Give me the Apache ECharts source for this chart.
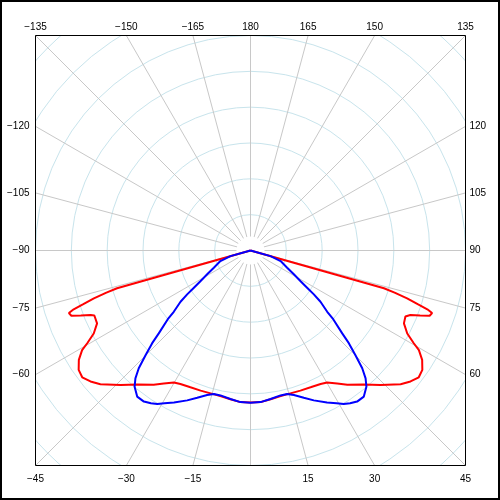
<!DOCTYPE html>
<html>
<head>
<meta charset="utf-8">
<script src="https://cdn.jsdelivr.net/npm/echarts@6/dist/echarts.min.js"></script>
<style>
html, body { margin: 0; padding: 0; background: #fff; }
#chart { width: 500px; height: 500px; }
</style>
</head>
<body>
<div id="chart"></div>
<script>
// right half of each curve (gamma in degrees, intensity), the left half is the mirror image
const redAngles = [0, 3.8, 7.7, 11.7, 15.6, 19.6, 23.7, 27.7, 30.1, 33.1, 35.8, 40.2, 44.0, 48.3, 50.7, 53.0, 55.2, 57.5, 59.4, 60.4, 62.1, 64.6, 66.9, 67.4, 68.0, 69.0, 70.0, 71.0, 71.6, 72.2, 73.0, 73.7, 74.2, 74.5]
const redValues = [424, 424, 419, 415, 414, 415, 417, 421, 426, 443, 462, 490, 522, 561, 577, 588, 584, 568, 546, 524, 495, 474, 470, 472, 481, 507, 532, 536, 520, 490, 457, 419, 387, 0]

const blueAngles = [0, 3.8, 7.7, 11.7, 14.3, 16.7, 19.9, 22.9, 26.7, 29.4, 31.3, 33.1, 35.2, 37.8, 40.4, 42.0, 43.5, 45.1, 46.7, 47.9, 50.3, 51.4, 53.8, 55.3, 56.7, 58.6, 61.2, 64.9, 70.7, 74.4, 74.5]
const blueValues = [425, 424, 418, 413, 413, 421, 437, 454, 475, 489, 501, 509, 516, 516, 499, 480, 453, 413, 377, 345, 300, 274, 242, 215, 189, 163, 138, 113, 89, 58, 0]

// angle labels along each side of the frame
const bottomLabels = [-45, -30, -15, 15, 30, 45]
const topLabels = [-135, -150, -165, 180, 165, 150, 135]
const leftLabels = [-60, -75, -90, -105, -120]
const rightLabels = [60, 75, 90, 105, 120]

const EDGE = 600 // intensity at the middle of each frame side
const SIDE = 430 // frame size in px

const rad = (d) => d * Math.PI / 180
const fmt = (a) => (a < 0 ? '\u2212' + (-a) : String(a))
const round = (v) => Math.round(v * 1e9) / 1e9

// where a spoke hits the frame side, in half-side units
function sideLabel(labels, pos, margin) {
  const vals = labels.map((a) => round(pos(a)))
  return {
    customValues: vals,
    showMinLabel: true,
    showMaxLabel: true,
    margin: margin,
    color: '#000',
    fontSize: 10,
    fontFamily: 'Liberation Sans',
    formatter: (v) => {
      let best = 0
      vals.forEach((p, i) => {
        if (Math.abs(p - v) < Math.abs(vals[best] - v)) best = i
      })
      return fmt(labels[best])
    }
  }
}

function mirror(angles, values) {
  const left = angles.map((a, i) => [values[i], -a]).reverse()
  const right = angles.map((a, i) => [values[i], a]).slice(1)
  return left.concat(right)
}

const frameAxis = {
  type: 'value',
  min: -1,
  max: 1,
  axisLine: { show: false },
  axisTick: { show: false },
  splitLine: { show: false },
  z: 10
}

const myChart = echarts.init(document.getElementById('chart'))
const option = {
  animation: false,
  backgroundColor: '#fff',
  grid: {
    left: 35.5,
    top: 35.5,
    width: SIDE,
    height: SIDE,
    show: true,
    borderColor: '#000',
    borderWidth: 1,
    z: 10
  },
  xAxis: [
    Object.assign({}, frameAxis, {
      position: 'bottom',
      axisLabel: sideLabel(bottomLabels, (a) => Math.tan(rad(a)), 9)
    }),
    Object.assign({}, frameAxis, {
      position: 'top',
      axisLabel: sideLabel(topLabels, (a) => -Math.tan(rad(a)), 3)
    })
  ],
  yAxis: [
    Object.assign({}, frameAxis, {
      position: 'left',
      inverse: true,
      axisLabel: sideLabel(leftLabels, (a) => -1 / Math.tan(rad(a)), 6)
    }),
    Object.assign({}, frameAxis, {
      position: 'right',
      inverse: true,
      axisLabel: sideLabel(rightLabels, (a) => 1 / Math.tan(rad(a)), 4)
    })
  ],
  polar: {
    center: [250.5, 250.5],
    radius: (SIDE / 2) * Math.SQRT2
  },
  angleAxis: {
    type: 'value',
    min: -180,
    max: 180,
    interval: 15,
    startAngle: 90,
    clockwise: false,
    axisLine: { show: false },
    axisTick: { show: false },
    axisLabel: { show: false },
    splitLine: { show: true, lineStyle: { color: '#c8c8c8', width: 1 } },
    z: 0
  },
  radiusAxis: {
    type: 'value',
    min: 0,
    max: EDGE * Math.SQRT2,
    interval: 100,
    axisLine: { show: false },
    axisTick: { show: false },
    axisLabel: { show: false },
    splitLine: { show: true, lineStyle: { color: '#c8e4ec', width: 1 } },
    z: 0
  },
  graphic: [
    // hide the polar grid outside the square frame
    { type: 'rect', shape: { x: 0, y: 0, width: 500, height: 35 }, style: { fill: '#fff' }, z: 5 },
    { type: 'rect', shape: { x: 0, y: 466, width: 500, height: 34 }, style: { fill: '#fff' }, z: 5 },
    { type: 'rect', shape: { x: 0, y: 0, width: 35, height: 500 }, style: { fill: '#fff' }, z: 5 },
    { type: 'rect', shape: { x: 466, y: 0, width: 34, height: 500 }, style: { fill: '#fff' }, z: 5 },
    // spokes stop short of the centre
    { type: 'circle', shape: { cx: 250.5, cy: 250.5, r: 14 }, style: { fill: '#fff' }, z: 1 },
    { type: 'rect', shape: { x: 1, y: 1, width: 498, height: 498 }, style: { fill: 'none', stroke: '#000', lineWidth: 2 }, z: 20 }
  ],
  series: [
    {
      type: 'line',
      coordinateSystem: 'polar',
      data: mirror(redAngles, redValues),
      symbol: 'none',
      clip: false,
      lineStyle: { color: '#ff0000', width: 2 },
      z: 3
    },
    {
      type: 'line',
      coordinateSystem: 'polar',
      data: mirror(blueAngles, blueValues),
      symbol: 'none',
      clip: false,
      lineStyle: { color: '#0000ff', width: 2 },
      z: 4
    }
  ]
}
myChart.setOption(option)
</script>
</body>
</html>
